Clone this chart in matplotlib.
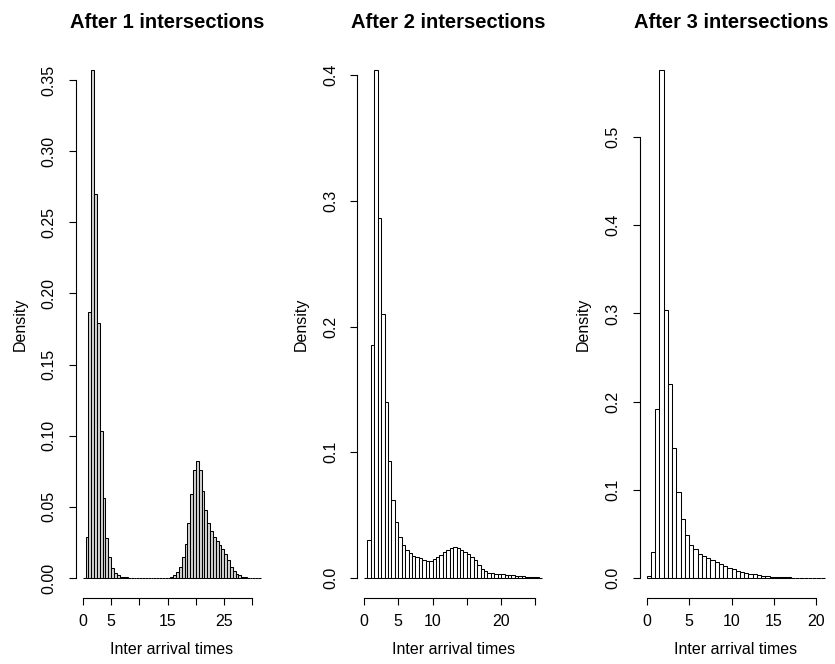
import numpy as np
import matplotlib
matplotlib.use("Agg")
import matplotlib.pyplot as plt
from matplotlib.ticker import FormatStrFormatter

plt.rcParams['font.family'] = ['Liberation Sans', 'DejaVu Sans']

# histogram densities, bin width 0.5 starting at 0
dens1 = [0.0, 0.029, 0.187, 0.357, 0.270, 0.179, 0.103, 0.056, 0.028, 0.0146,
         0.0073, 0.0036, 0.002, 0.001, 0.0006, 0.0004, 0.0003, 0.0002, 0.0002, 0.0001,
         0.0001, 0.0001, 0.0001, 0.0001, 0.0001, 0.0001, 0.0001, 0.0001, 0.0002, 0.0002,
         0.0003, 0.0008, 0.002, 0.004, 0.008, 0.015, 0.024, 0.039, 0.059, 0.076,
         0.0825, 0.076, 0.061, 0.048, 0.039, 0.033, 0.029, 0.026, 0.023, 0.0205,
         0.017, 0.013, 0.008, 0.005, 0.003, 0.0018, 0.001, 0.0006, 0.0003, 0.0002,
         0.0001, 0.0001, 0.0001]
dens2 = [0.0, 0.030, 0.185, 0.404, 0.2865, 0.2096, 0.140, 0.0934, 0.0618, 0.0442,
         0.0327, 0.0266, 0.0222, 0.0195, 0.0175, 0.0168, 0.0157, 0.0146, 0.0138, 0.0139,
         0.0148, 0.0165, 0.0185, 0.0203, 0.0222, 0.0237, 0.0245, 0.0238, 0.0226, 0.0208,
         0.019, 0.0168, 0.014, 0.0104, 0.0072, 0.0052, 0.0042, 0.0038, 0.0035, 0.0033,
         0.003, 0.0027, 0.0024, 0.0021, 0.0018, 0.0016, 0.0013, 0.0011, 0.0009, 0.0007,
         0.0005, 0.0004]
dens3 = [0.002, 0.030, 0.192, 0.576, 0.304, 0.220, 0.147, 0.098, 0.067, 0.049,
         0.038, 0.0325, 0.0275, 0.0255, 0.0224, 0.0204, 0.018, 0.0157, 0.0137, 0.0114,
         0.0098, 0.0082, 0.0071, 0.006, 0.005, 0.004, 0.0033, 0.0027, 0.0022, 0.0017,
         0.0013, 0.001, 0.0008, 0.0006, 0.0005, 0.0004, 0.0003, 0.0002, 0.0002, 0.0001,
         0.0001, 0.0001]
binw = 0.5

titles = ["After 1 intersections", "After 2 intersections", "After 3 intersections"]
xticks = [[0, 5, 10, 15, 20, 25, 30], [0, 5, 10, 15, 20, 25], [0, 5, 10, 15, 20]]
xticklabels = [["0", "5", "", "15", "", "25", ""],
               ["0", "5", "10", "", "20", ""],
               ["0", "5", "10", "15", "20"]]
yticks = [[0, 0.05, 0.10, 0.15, 0.20, 0.25, 0.30, 0.35],
          [0, 0.1, 0.2, 0.3, 0.4],
          [0, 0.1, 0.2, 0.3, 0.4, 0.5]]
yfmt = ["%.2f", "%.1f", "%.1f"]
fills = ["lightgray", "white", "white"]

fig = plt.figure(figsize=(8.35, 6.64), dpi=100)
lefts = [75.6, 356.9, 639.5]
axw = 192.5

for i, dens in enumerate([dens1, dens2, dens3]):
    ax = fig.add_axes([lefts[i] / 835, 0.0989, axw / 835, 0.8262])
    dens = np.array(dens)
    edges = np.arange(len(dens)) * binw
    ax.bar(edges, dens, width=binw, align='edge', facecolor=fills[i],
           edgecolor='black', linewidth=0.75)
    lo, hi = 0, len(dens) * binw
    ax.set_xlim(lo - 0.04 * (hi - lo), hi + 0.04 * (hi - lo))
    ym = dens.max()
    ax.set_ylim(-0.04 * ym, 1.04 * ym)
    for s in ['top', 'right']:
        ax.spines[s].set_visible(False)
    ax.spines['left'].set_bounds(yticks[i][0], yticks[i][-1])
    ax.spines['bottom'].set_bounds(xticks[i][0], xticks[i][-1])
    ax.set_xticks(xticks[i])
    ax.set_xticklabels(xticklabels[i])
    ax.set_yticks(yticks[i])
    ax.yaxis.set_major_formatter(FormatStrFormatter(yfmt[i]))
    ax.tick_params(axis='both', length=5, width=0.8, labelsize=11.5)
    ax.tick_params(axis='x', pad=6.5)
    ax.tick_params(axis='y', pad=8.5, labelrotation=90)
    for t in ax.get_yticklabels():
        t.set_va('center')
    ax.set_title(titles[i], fontsize=14.5, fontweight='bold', pad=15.5,
                 x=0.5 - 5 / axw)
    ax.set_xlabel("Inter arrival times", fontsize=11.5, labelpad=9.5)
    ax.set_ylabel("Density", fontsize=11.5, labelpad=10.5)

fig.savefig("out.png", dpi=100)
